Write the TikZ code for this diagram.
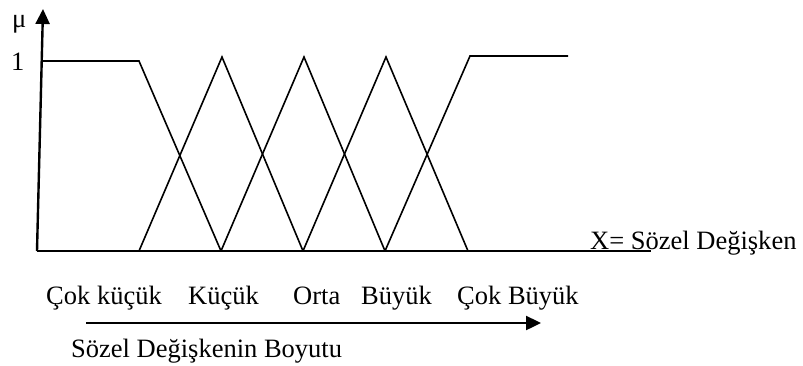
\documentclass[tikz,border=0pt]{standalone}
\usepackage{fontspec}
\setmainfont{Liberation Serif}
\usetikzlibrary{arrows.meta}
\tikzset{
  curve/.style={line width=1.6bp, line join=miter},
  axis/.style={line width=2.4bp},
  lbl/.style={inner sep=0pt, anchor=base west, font=\fontsize{26.6}{30}\selectfont},
  tip/.style={-{Triangle[length=15bp,width=14bp]}}
}
\begin{document}
\begin{tikzpicture}[x=1bp,y=-1bp]
\useasboundingbox (0,0) rectangle (803,365);
% axes
\coordinate (o) at (37,251);
\coordinate (ytop) at (43,9);
\coordinate (xend) at (651,251);
\draw[axis,tip] (o) -- (ytop);
\draw[curve] (o) -- (xend);
% membership functions
\coordinate (a1) at (43,61);
\coordinate (a2) at (139,61);
\coordinate (b0) at (139,251);
\coordinate (b1) at (221,251);
\coordinate (b2) at (303,251);
\coordinate (b3) at (385,251);
\coordinate (b4) at (468,251);
\coordinate (p1) at (222,57);
\coordinate (p2) at (304,57);
\coordinate (p3) at (386,57);
\coordinate (c1) at (470,56);
\coordinate (c2) at (568,56);
\draw[curve] (a1) -- (a2) -- (b1);
\draw[curve] (b0) -- (p1) -- (b2);
\draw[curve] (b1) -- (p2) -- (b3);
\draw[curve] (b2) -- (p3) -- (b4);
\draw[curve] (b3) -- (c1) -- (c2);
% labels
\node[lbl] (mu) at (12,27) {μ};
\node[lbl] (one) at (11,70) {1};
\node[lbl] (xlab) at (590,249) {X= Sözel Değişken};
\node[lbl] (l1) at (46,304) {Çok küçük};
\node[lbl] (l2) at (188,304) {Küçük};
\node[lbl] (l3) at (293,304) {Orta};
\node[lbl] (l4) at (361,304) {Büyük};
\node[lbl] (l5) at (457,304) {Çok Büyük};
\node[lbl] (size) at (71,357) {Sözel Değişkenin Boyutu};
% size arrow
\coordinate (s0) at (86,323);
\coordinate (s1) at (541,323);
\draw[axis,tip] (s0) -- (s1);
\end{tikzpicture}
\end{document}
